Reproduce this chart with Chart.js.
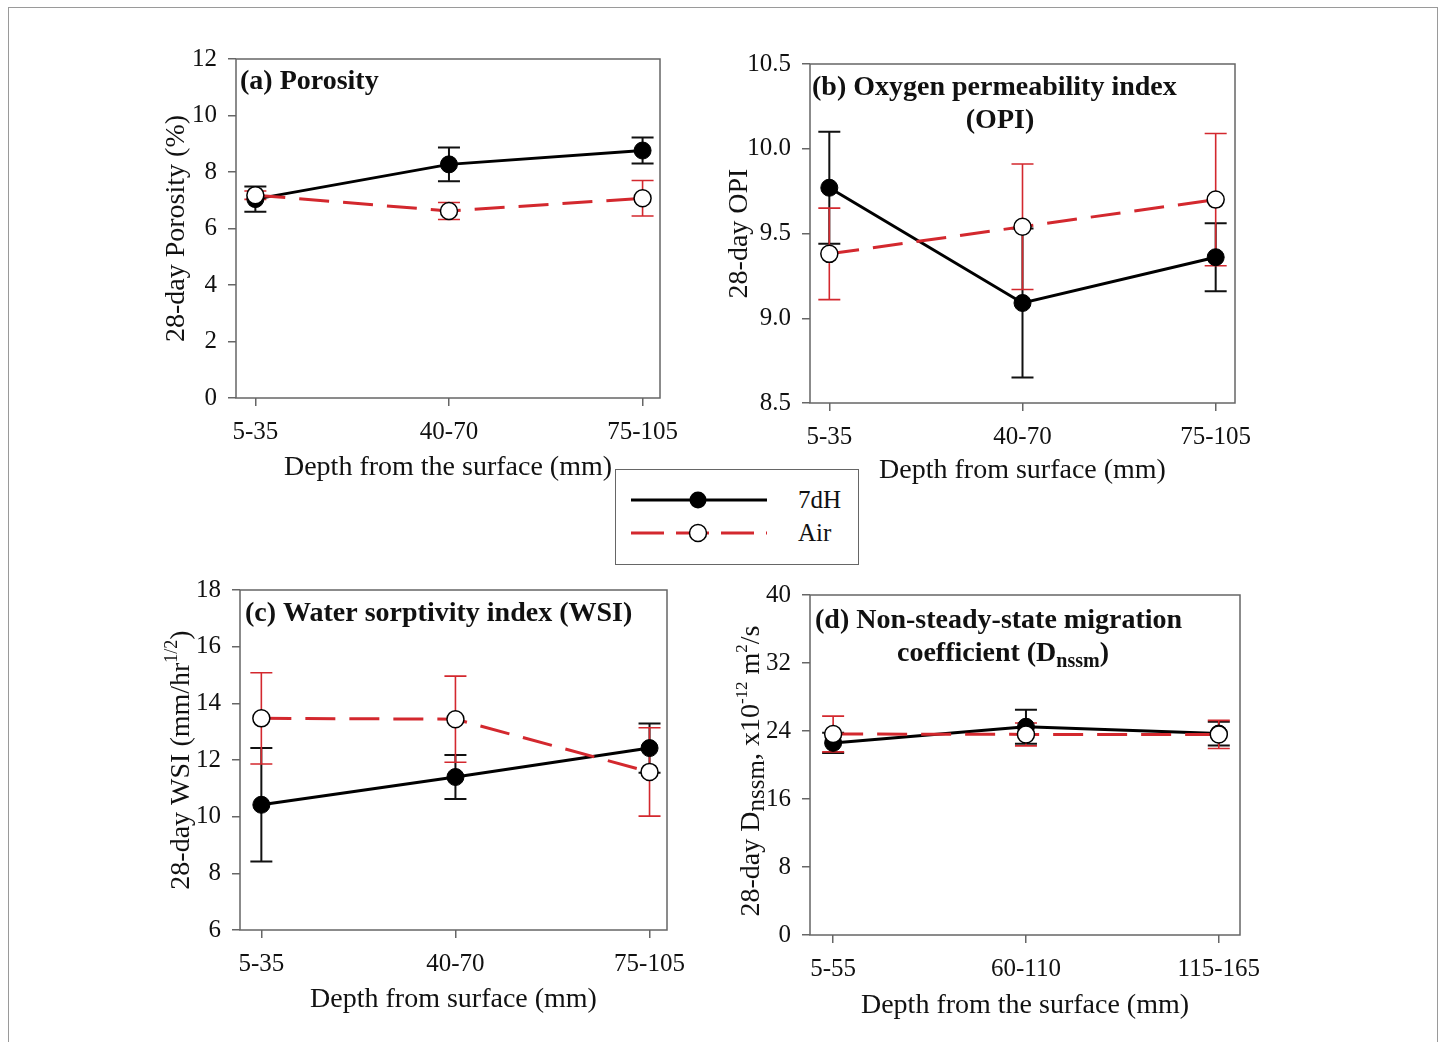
<!DOCTYPE html>
<html>
<head>
<meta charset="utf-8">
<script src="https://cdn.jsdelivr.net/npm/chart.js@4.4.0/dist/chart.umd.min.js"></script>
<style>
  body { margin: 0; background: #fff; width: 1444px; height: 1042px; overflow: hidden; position: relative;
         font-family: 'Liberation Serif', 'Times New Roman', serif; }
  #frame { position: absolute; left: 8px; top: 7px; width: 1428px; height: 1100px; border: 1px solid #9a9a9a; }
  canvas.panel { position: absolute; }
  #legend { position: absolute; left: 615px; top: 469px; width: 242px; height: 94px; border: 1.5px solid #666; background: #fff; }
  #legend svg { position: absolute; left: 0; top: 0; }
  #legend span { position: absolute; left: 182px; font-size: 25px; line-height: 30px; color: #111; }
</style>
</head>
<body>
<div id="frame"></div>
<canvas class="panel" id="pa"></canvas>
<canvas class="panel" id="pb"></canvas>
<canvas class="panel" id="pc"></canvas>
<canvas class="panel" id="pd"></canvas>
<div id="legend">
  <svg width="242" height="94">
    <line x1="15" y1="30" x2="151" y2="30" stroke="#000" stroke-width="3"/>
    <circle cx="82" cy="30" r="8.5" fill="#000"/>
    <line x1="15" y1="63" x2="151" y2="63" stroke="#d3282e" stroke-width="3" stroke-dasharray="33 12"/>
    <circle cx="82" cy="63" r="8.5" fill="#fff" stroke="#000" stroke-width="1.5"/>
  </svg>
  <span style="top:15px">7dH</span>
  <span style="top:48px">Air</span>
</div>
<script>
const FAMILY = "'Liberation Serif', 'Times New Roman', serif";

// categories
const depthShort = ['5-35', '40-70', '75-105'];
const depthLong = ['5-55', '60-110', '115-165'];
const seriesNames = ['7dH', 'Air'];

// (a) porosity
const porosity7dH = [7.04, 8.27, 8.76];
const porosity7dHErr = [0.45, 0.6, 0.46];
const porosityAir = [7.18, 6.62, 7.07];
const porosityAirErr = [0.15, 0.3, 0.63];
const porosityTicks = [0, 2, 4, 6, 8, 10, 12];
const porosityTickLabels = ['0', '2', '4', '6', '8', '10', '12'];

// (b) OPI
const opi7dH = [9.77, 9.09, 9.36];
const opi7dHErr = [0.33, 0.44, 0.2];
const opiAir = [9.38, 9.54, 9.7];
const opiAirErr = [0.27, 0.37, 0.39];
const opiTicks = [8.5, 9.0, 9.5, 10.0, 10.5];
const opiTickLabels = ['8.5', '9.0', '9.5', '10.0', '10.5'];

// (c) WSI
const wsi7dH = [10.42, 11.4, 12.42];
const wsi7dHErr = [2.0, 0.78, 0.87];
const wsiAir = [13.47, 13.44, 11.58];
const wsiAirErr = [1.61, 1.52, 1.56];
const wsiTicks = [6, 8, 10, 12, 14, 16, 18];
const wsiTickLabels = ['6', '8', '10', '12', '14', '16', '18'];

// (d) Dnssm
const dnssm7dH = [22.6, 24.5, 23.7];
const dnssm7dHErr = [1.2, 2.0, 1.4];
const dnssmAir = [23.65, 23.6, 23.6];
const dnssmAirErr = [2.1, 1.35, 1.65];
const dnssmTicks = [0, 8, 16, 24, 32, 40];
const dnssmTickLabels = ['0', '8', '16', '24', '32', '40'];

const AW = 110, PT = 24, PR = 44, AH = 100;
const RED = '#d3282e';

const panels = {
  pa: {
    frame: { l: 236, t: 57, r: 660, b: 398 }, xMin: -0.1, xMax: 2.09,
    cats: depthShort, ticks: porosityTicks, tickLabels: porosityTickLabels,
    s1: porosity7dH, e1: porosity7dHErr, s2: porosityAir, e2: porosityAirErr,
    titles: [{ x: 4, y: 21, align: 'left', segs: [{ t: '(a) Porosity' }] }],
    yTitle: { dx: -61, segs: [{ t: '28-day Porosity (%)' }] },
    xTitle: { dy: 68, segs: [{ t: 'Depth from the surface (mm)' }] }
  },
  pb: {
    frame: { l: 810, t: 62, r: 1235, b: 403 }, xMin: -0.1, xMax: 2.1,
    cats: depthShort, ticks: opiTicks, tickLabels: opiTickLabels,
    s1: opi7dH, e1: opi7dHErr, s2: opiAir, e2: opiAirErr,
    titles: [
      { x: 2, y: 22, align: 'left', segs: [{ t: '(b) Oxygen permeability index' }] },
      { x: 190, y: 55, align: 'center', segs: [{ t: '(OPI)' }] }
    ],
    yTitle: { dx: -72, segs: [{ t: '28-day OPI' }] },
    xTitle: { dy: 66, segs: [{ t: 'Depth from surface (mm)' }] }
  },
  pc: {
    frame: { l: 240, t: 588, r: 667, b: 930 }, xMin: -0.11, xMax: 2.09,
    cats: depthShort, ticks: wsiTicks, tickLabels: wsiTickLabels,
    s1: wsi7dH, e1: wsi7dHErr, s2: wsiAir, e2: wsiAirErr,
    titles: [{ x: 5, y: 22, align: 'left', segs: [{ t: '(c) Water sorptivity index (WSI)' }] }],
    yTitle: { dx: -60, segs: [{ t: '28-day WSI (mm/hr' }, { t: '1/2', k: 0.65, dy: -0.42 }, { t: ')' }] },
    xTitle: { dy: 68, segs: [{ t: 'Depth from surface (mm)' }] }
  },
  pd: {
    frame: { l: 810, t: 593, r: 1240, b: 935 }, xMin: -0.12, xMax: 2.11,
    cats: depthLong, ticks: dnssmTicks, tickLabels: dnssmTickLabels,
    s1: dnssm7dH, e1: dnssm7dHErr, s2: dnssmAir, e2: dnssmAirErr,
    titles: [
      { x: 5, y: 24, align: 'left', segs: [{ t: '(d) Non-steady-state migration' }] },
      { x: 193, y: 57, align: 'center', segs: [{ t: 'coefficient (D' }, { t: 'nssm', k: 0.7, dy: 0.22 }, { t: ')' }] }
    ],
    yTitle: { dx: -60, shift: 6, segs: [{ t: '28-day D' }, { t: 'nssm', k: 0.9, dy: 0.18 }, { t: ', x10' }, { t: '-12', k: 0.6, dy: -0.42 }, { t: ' m' }, { t: '2', k: 0.6, dy: -0.42 }, { t: '/s' }] },
    xTitle: { dy: 69, segs: [{ t: 'Depth from the surface (mm)' }] }
  }
};

function drawRich(ctx, segs, x, y, align, size, bold) {
  const fontOf = s => `${bold ? 'bold ' : ''}${Math.round(size * (s.k || 1))}px ${FAMILY}`;
  let w = 0;
  segs.forEach(s => { ctx.font = fontOf(s); w += ctx.measureText(s.t).width; });
  let cx = align === 'center' ? x - w / 2 : x;
  const base = y + size * 0.33;
  ctx.textAlign = 'left';
  ctx.textBaseline = 'alphabetic';
  ctx.fillStyle = '#111';
  segs.forEach(s => {
    ctx.font = fontOf(s);
    ctx.fillText(s.t, cx, base + (s.dy || 0) * size);
    cx += ctx.measureText(s.t).width;
  });
}

const decor = {
  id: 'decor',
  beforeDatasetsDraw(chart) {
    const { ctx, chartArea: a } = chart;
    const xs = chart.scales.x, ys = chart.scales.y;
    ctx.save();
    ctx.strokeStyle = '#666';
    ctx.lineWidth = 1.5;
    ctx.strokeRect(a.left, a.top, a.right - a.left, a.bottom - a.top);
    // error bars
    chart.data.datasets.forEach(ds => {
      ctx.strokeStyle = ds.errColor;
      ctx.lineWidth = ds.errWidth;
      ds.data.forEach((pt, i) => {
        const x = xs.getPixelForValue(pt.x);
        const y1 = ys.getPixelForValue(pt.y + ds.errors[i]);
        const y2 = ys.getPixelForValue(pt.y - ds.errors[i]);
        ctx.beginPath();
        ctx.moveTo(x, y1); ctx.lineTo(x, y2);
        ctx.moveTo(x - 11, y1); ctx.lineTo(x + 11, y1);
        ctx.moveTo(x - 11, y2); ctx.lineTo(x + 11, y2);
        ctx.stroke();
      });
    });
    ctx.restore();
  },
  afterDraw(chart) {
    const p = panels[chart.canvas.id];
    const { ctx, chartArea: a } = chart;
    ctx.save();
    p.titles.forEach(t => drawRich(ctx, t.segs, a.left + t.x, a.top + t.y, t.align, 28, true));
    drawRich(ctx, p.xTitle.segs, (a.left + a.right) / 2, a.bottom + p.xTitle.dy, 'center', 28, false);
    ctx.translate(a.left + p.yTitle.dx, (a.top + a.bottom) / 2 + (p.yTitle.shift || 0));
    ctx.rotate(-Math.PI / 2);
    drawRich(ctx, p.yTitle.segs, 0, 0, 'center', 28, false);
    ctx.restore();
  }
};

function makePanel(id) {
  const p = panels[id];
  const f = p.frame;
  const cv = document.getElementById(id);
  cv.width = (f.r - f.l) + AW + PR;
  cv.height = (f.b - f.t) + PT + AH;
  cv.style.left = (f.l - AW) + 'px';
  cv.style.top = (f.t - PT) + 'px';
  const pts = arr => arr.map((v, i) => ({ x: i, y: v }));
  const tickFont = { family: FAMILY, size: 25 };
  new Chart(cv, {
    type: 'line',
    data: {
      datasets: [
        {
          label: seriesNames[0], data: pts(p.s1), errors: p.e1, errColor: '#111', errWidth: 2, order: 1,
          borderColor: '#000', borderWidth: 3, pointRadius: 8.5, pointBackgroundColor: '#000',
          pointBorderColor: '#000', pointBorderWidth: 1, tension: 0
        },
        {
          label: seriesNames[1], data: pts(p.s2), errors: p.e2, errColor: RED, errWidth: 1.6, order: 0,
          borderColor: RED, borderWidth: 3, borderDash: [30, 14], pointRadius: 8.5,
          pointBackgroundColor: '#fff', pointBorderColor: '#000', pointBorderWidth: 1.5, tension: 0
        }
      ]
    },
    options: {
      responsive: false, animation: false, devicePixelRatio: 1,
      layout: { padding: { left: 0, top: PT, right: PR, bottom: 0 } },
      plugins: { legend: { display: false }, tooltip: { enabled: false } },
      scales: {
        x: {
          type: 'linear', min: p.xMin, max: p.xMax,
          afterBuildTicks: s => { s.ticks = p.cats.map((c, i) => ({ value: i })); },
          afterFit: s => { s.height = AH; },
          ticks: { callback: v => p.cats[v], font: tickFont, color: '#111', padding: 11, autoSkip: false, maxRotation: 0 },
          grid: { drawOnChartArea: false, drawTicks: true, tickLength: 8, color: '#666', lineWidth: 1.5 },
          border: { display: false }
        },
        y: {
          min: p.ticks[0], max: p.ticks[p.ticks.length - 1],
          afterBuildTicks: s => { s.ticks = p.ticks.map(v => ({ value: v })); },
          afterFit: s => { s.width = AW; },
          ticks: { callback: (v, i) => p.tickLabels[i], font: tickFont, color: '#111', padding: 11 },
          grid: { drawOnChartArea: false, drawTicks: true, tickLength: 8, color: '#666', lineWidth: 1.5 },
          border: { display: false }
        }
      }
    },
    plugins: [decor]
  });
}

['pa', 'pb', 'pc', 'pd'].forEach(makePanel);
</script>
</body>
</html>
